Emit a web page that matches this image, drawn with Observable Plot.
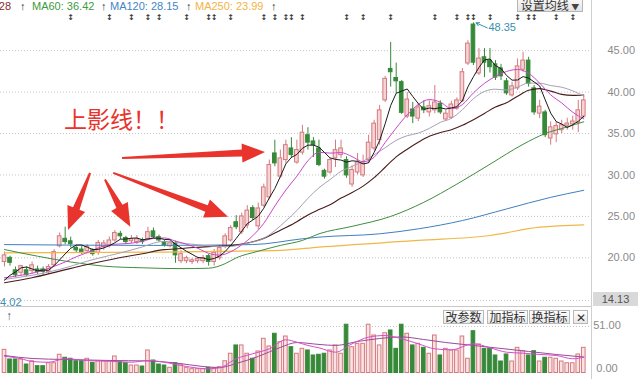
<!DOCTYPE html>
<html><head><meta charset="utf-8">
<script src="https://cdn.jsdelivr.net/npm/d3@7"></script>
<script src="https://cdn.jsdelivr.net/npm/@observablehq/plot@0.6"></script>
<style>
html,body{margin:0;padding:0;background:#fff;}
#wrap{position:relative;width:640px;height:379px;overflow:hidden;background:#fff;font-family:"Liberation Sans",Arial,sans-serif;}
#wrap svg{position:absolute;left:0;}
.btn{position:absolute;top:310px;height:12px;border:1px solid #b8b8b8;background:linear-gradient(#ffffff,#e8e8e8);font-family:"Noto Sans CJK SC",sans-serif;font-size:12px;line-height:12px;color:#333;text-align:center;}
.abs{position:absolute;white-space:nowrap;}
</style></head><body><div id="wrap"></div>
<script>
// ---------- candles ----------
const open = [19.5,20.0,18.5,18.2,18.5,18.4,18.6,18.6,18.3,19.1,21.4,22.3,22.0,21.2,21.0,20.8,20.9,20.6,21.3,21.4,22.1,22.9,22.4,22.0,21.9,22.1,22.25,23.2,22.5,21.9,21.4,21.75,19.6,19.6,19.5,19.6,19.6,20.2,19.5,19.96,21.3,22.1,24.3,23.1,23.9,26.0,23.8,26.3,27.3,32.6,29.8,31.8,33.2,31.5,32.7,34.8,34.05,33.2,30.5,30.3,32.0,32.4,31.8,28.85,30.3,29.95,31.8,33.2,34.2,39.0,42.8,41.7,41.2,37.05,37.9,36.8,38.15,37.55,37.8,38.6,36.7,36.9,38.0,38.9,43.45,48.15,42.25,44.2,43.8,43.35,42.85,41.3,39.6,40.45,42.7,43.8,40.45,37.4,37.55,34.4,34.9,35.4,35.95,36.1,36.3,37.05];
const close = [20.3,19.4,17.9,19.0,17.9,19.1,18.3,18.3,18.9,20.7,22.6,21.9,21.65,20.9,20.7,21.3,20.45,21.8,21.75,22.1,23.0,22.6,21.9,22.25,22.25,21.9,23.1,22.5,22.1,21.5,21.75,20.3,20.45,19.96,19.7,19.85,19.96,19.5,20.6,21.2,22.6,23.6,23.7,25.0,25.7,24.8,25.96,28.5,31.2,31.4,32.0,33.6,32.4,33.0,35.1,33.9,33.6,31.2,29.8,31.8,33.0,33.2,29.95,30.6,31.5,31.4,33.9,36.2,37.8,41.6,42.4,41.3,37.5,39.1,37.05,38.15,37.8,38.3,38.75,37.55,37.4,38.5,39.0,42.4,45.85,43.55,44.05,43.55,43.0,41.75,41.9,39.85,40.7,43.1,43.8,41.0,37.55,38.25,34.8,35.75,35.9,36.0,36.2,36.45,37.8,39.0];
const high = [20.7,20.2,18.9,19.1,18.9,19.5,19.0,18.9,19.2,21.0,23.0,23.7,22.5,21.5,21.4,21.6,21.1,22.1,22.1,22.5,23.3,23.2,22.6,22.7,22.7,22.4,23.7,23.6,22.75,22.1,22.0,22.0,20.9,20.2,19.9,20.1,20.3,20.4,21.0,21.5,22.9,23.9,25.1,25.4,26.3,26.3,26.6,28.9,31.8,34.2,33.0,34.2,34.5,34.2,36.0,35.7,34.5,34.2,30.7,32.0,34.2,34.2,32.2,31.1,32.6,32.4,34.8,36.6,38.4,41.9,46.0,43.5,41.4,39.95,38.75,38.65,38.95,38.95,40.8,38.95,37.8,38.9,39.3,42.85,46.2,48.35,45.25,45.25,45.25,43.8,43.35,41.65,41.2,44.0,44.8,44.2,40.8,39.0,37.8,36.4,36.4,36.6,36.85,37.1,39.0,39.5];
const low = [18.9,19.0,17.6,17.8,17.7,18.0,18.0,17.9,18.0,18.9,21.2,21.6,21.2,20.6,20.4,20.5,20.2,20.3,20.9,21.2,21.9,22.2,21.6,21.7,21.6,21.6,22.1,22.3,21.9,21.3,21.2,19.35,19.3,19.3,19.2,19.3,19.3,19.0,19.0,19.7,21.1,21.9,23.4,22.8,23.5,24.5,23.4,26.1,27.0,31.0,29.6,31.4,32.0,31.3,32.4,33.0,32.1,31.0,29.5,30.1,30.9,32.0,29.6,28.5,30.0,29.7,31.4,32.9,33.6,38.75,40.6,39.8,37.3,36.8,36.2,36.45,37.4,37.0,37.4,37.3,36.45,36.7,37.8,38.75,43.2,43.2,42.0,41.75,42.3,41.4,41.4,39.6,39.4,40.2,42.4,40.6,37.2,36.8,34.5,33.6,33.9,35.0,35.4,35.4,35.1,36.8];
const volume = [25.4,14.8,14.8,14.8,9.3,12.9,7.5,7.5,10.7,10.7,20.0,16.7,15.6,12.9,12.9,15.6,11.2,12.9,12.9,12.9,18.1,11.8,10.7,8.2,8.2,7.1,24.7,13.7,9.3,8.2,5.7,10.7,9.3,5.7,4.2,4.2,4.2,5.7,5.3,6.4,12.9,21.1,30.2,30.2,21.1,15.6,23.6,37.5,29.1,43.0,33.8,40.0,28.3,21.1,26.5,24.7,19.2,20.0,21.1,24.7,30.2,21.1,52.9,28.3,32.0,32.0,52.9,41.1,30.2,43.6,46.6,26.5,52.9,43.0,30.2,32.0,27.6,21.1,41.1,19.2,26.5,24.7,24.7,40.0,15.6,45.8,31.3,26.5,26.5,19.2,12.6,20.3,12.6,27.6,23.9,19.2,23.9,12.6,16.7,16.7,15.6,12.6,10.7,10.7,20.3,27.6];

// ---------- moving-average lines ----------
const ma5 = [17.3,17.9,18.3,18.8,18.9,18.66,18.44,18.52,18.5,19.06,19.76,20.48,21.15,21.55,21.55,21.29,21.0,21.03,21.2,21.48,21.82,22.25,22.27,22.37,22.4,22.18,22.28,22.4,22.37,22.22,22.19,21.63,21.22,20.79,20.43,20.05,19.98,19.79,19.92,20.22,20.77,21.5,22.34,23.22,24.12,24.56,25.03,25.99,27.23,28.37,29.81,31.34,32.12,32.48,33.22,33.6,33.6,33.36,32.72,32.06,31.88,31.8,31.55,31.71,31.65,31.33,31.47,32.72,34.16,36.18,38.38,39.86,40.12,40.38,39.47,38.62,37.92,38.08,38.01,38.11,37.96,38.1,38.24,38.97,40.63,41.86,42.97,43.88,44.0,43.18,42.85,42.01,41.44,41.46,41.87,41.69,41.23,40.74,39.08,37.47,36.45,36.14,35.73,36.06,36.47,37.09];
const ma10Day = [0,3,6,9,11,13,15,17,19,21,23,25,27,29,31,33,35,37,39,41,43,45,47,49,51,53,55,57,59,61,63,65,67,69,71,73,75,77,79,81,83,85,87,89,91,93,95,97,99,101,103,105];
const ma10 = [17.6,17.9,18.3,18.98,19.5,20.13,20.63,21.2,21.58,21.68,21.77,22.0,22.34,22.4,22.02,21.64,21.16,20.55,20.33,20.74,21.57,22.67,24.17,26.25,28.19,29.86,31.71,32.74,32.64,32.7,32.22,31.6,32.14,33.92,35.67,37.27,38.5,39.1,38.79,38.01,38.49,39.91,41.06,41.9,42.49,42.73,42.27,41.09,39.67,38.69,37.57,36.77];
const ma20Day = [0,5,10,15,19,21,23,25,27,29,31,33,35,37,39,41,43,45,47,49,51,53,55,57,59,61,63,65,67,69,71,73,75,77,79,81,83,85,87,89,91,93,95,97,99,101,103,105];
const ma20 = [17.4,17.9,18.6,19.6,20.28,20.59,20.95,21.32,21.77,21.99,21.85,21.71,21.58,21.44,21.36,21.38,21.61,21.91,22.36,23.29,24.46,25.71,27.19,28.45,29.44,30.44,31.04,31.66,32.44,33.28,34.18,34.74,35.05,35.62,36.35,36.84,37.88,39.2,40.08,40.35,40.25,40.61,41.09,41.08,40.79,40.59,40.15,39.52];
const ma30Day = [0,5,10,15,20,25,29,31,33,35,37,39,41,43,45,47,49,51,53,55,57,59,61,63,65,67,69,71,73,75,77,79,81,83,85,87,89,91,93,95,97,99,101,103,105];
const ma30 = [17.0,17.6,18.4,19.2,19.9,20.5,20.99,21.06,21.18,21.27,21.36,21.43,21.48,21.66,21.94,22.35,22.99,23.65,24.36,25.18,25.82,26.4,27.21,27.88,28.66,29.68,30.93,32.18,33.11,33.94,34.66,35.12,35.46,35.99,36.67,37.43,38.2,38.72,39.5,40.23,40.42,40.12,39.73,39.6,39.65];
const ma60Day = [0,6,12,18,25,32,37,40,42,46,50,54,57,63,70,76,82,88,94,98,102,105];
const ma60 = [21.0,20.2,19.5,19.0,18.8,18.7,18.75,19.3,20.0,20.8,21.5,22.1,22.9,23.8,25.0,26.7,28.9,31.3,33.7,35.0,35.8,36.42];
const ma120Day = [0,27,45,54,57,68,75,83,91,99,105];
const ma120 = [21.6,21.5,21.6,22.3,22.5,22.9,23.5,24.5,25.9,27.3,28.15];
const ma250Day = [0,27,50,57,75,88,97,105];
const ma250 = [20.6,20.7,20.9,21.3,22.1,22.7,23.7,23.99];

// volume averages
const vol5Day = [0,3,5,8,11,15,19,23,26,30,33,37,39,42,45,48,51,53,55,57,60,63,66,69,72,75,78,81,85,88,91,94,97,100,103,105];
const vol5 = [18.4,15.6,12.6,11.8,15.6,13.7,12.9,11.8,13.7,10.7,7.1,4.6,5.7,15.6,21.1,26.5,36.4,33.8,30.2,27.6,22.8,32.0,39.3,41.1,37.5,32.0,26.5,25.4,32.0,27.6,22.8,21.7,20.3,19.2,15.6,17.3];
const vol10Day = [0,5,11,19,26,31,36,39,42,46,50,53,57,60,64,68,72,76,80,85,90,95,100,105];
const vol10 = [19.2,15.9,14.8,13.7,13.2,11.0,7.1,6.0,10.4,18.1,28.0,33.4,31.3,30.2,34.5,37.8,39.5,36.7,33.4,30.2,26.9,23.6,20.3,17.5];

// ticks, events, labels
const priceTicks = [20, 25, 30, 35, 40, 45];
const volTicks = [{v: 51, shift: 0}, {v: 0, shift: -4}];
const markerDays = [12,19,23,26,28,33,37,38,41,47,49,51,52,54,62,65,70,78,82,84,85,88,93,95,96,100,103];
const legendItems = [
  {name: "MA30", value: "39.28"},
  {name: "MA60", value: "36.42"},
  {name: "MA120", value: "28.15"},
  {name: "MA250", value: "23.99"}
];
const bottomValue = "14.13";
const lowValue = "14.02";
const noteText = "上影线！！";
// annotation arrows: [day, price] of tail and tip
const arrowTail = [[15.6, 30.2], [18.3, 29.4], [19.8, 30.2], [21.4, 32.0]];
const arrowTip  = [[11.6, 23.3], [22.9, 23.7], [40.6, 24.9], [47.3, 32.7]];

// ---------- build ----------
const rows = open.map((o, i) => ({i, o, c: close[i], h: high[i], l: low[i], v: volume[i], up: close[i] >= o}));
const upStroke = "#d47a7e", upFill = "#f6d3d5", downCol = "#37893a";
const xDomain = [-0.725, 106.4];
const hw = 0.33;
const fmt = d3.format(".2f");
const maxRow = rows.reduce((a, b) => b.h > a.h ? b : a);

const price = Plot.plot({
  width: 640, height: 308, marginLeft: 0, marginRight: 49, marginTop: 20, marginBottom: 2,
  style: {fontFamily: "Liberation Sans, Arial, sans-serif", fontSize: "11px", background: "transparent"},
  x: {domain: xDomain, axis: null, label: null},
  y: {domain: [14.13, 48.64], axis: null, label: null},
  marks: [
    Plot.ruleY(priceTicks, {stroke: "#c4c4c4", strokeDasharray: "1,2"}),
    Plot.ruleY([14.85], {stroke: "#c4c4c4", strokeDasharray: "1,2"}),
    Plot.text(priceTicks, {y: d => d, text: d => fmt(d), frameAnchor: "right", dx: 16, textAnchor: "start", fill: "#8a8a8a", fontSize: 11}),
    Plot.ruleX(rows, {filter: d => d.up, x: "i", y1: "l", y2: "h", stroke: upStroke}),
    Plot.ruleX(rows, {filter: d => !d.up, x: "i", y1: "l", y2: "h", stroke: downCol}),
    Plot.rect(rows, {filter: d => d.up, x1: d => d.i - hw, x2: d => d.i + hw, y1: "o", y2: "c", fill: upFill, stroke: upStroke}),
    Plot.rect(rows, {filter: d => !d.up, x1: d => d.i - hw, x2: d => d.i + hw, y1: "o", y2: "c", fill: downCol, stroke: downCol}),
    Plot.line(ma250, {x: ma250Day, y: d => d, curve: "monotone-x", stroke: "#f0b848", strokeWidth: 1.2}),
    Plot.line(ma120, {x: ma120Day, y: d => d, curve: "monotone-x", stroke: "#3f80bf", strokeWidth: 1}),
    Plot.line(ma60, {x: ma60Day, y: d => d, curve: "monotone-x", stroke: "#3e8e3e", strokeWidth: 1}),
    Plot.line(ma30, {x: ma30Day, y: d => d, curve: "monotone-x", stroke: "#4a1c1c", strokeWidth: 1.1}),
    Plot.line(ma20, {x: ma20Day, y: d => d, curve: "monotone-x", stroke: "#a79fb6", strokeWidth: 1}),
    Plot.line(ma10, {x: ma10Day, y: d => d, curve: "monotone-x", stroke: "#cc46c8", strokeWidth: 1}),
    Plot.line(ma5, {x: (d, i) => i, y: d => d, stroke: "#1a1a1a", strokeWidth: 1}),
    Plot.text(markerDays, {x: d => d, frameAnchor: "top", dy: -6, text: () => "↕", fill: "#333", fontSize: 8, fontWeight: "bold", fontFamily: "DejaVu Sans"}),
    Plot.arrow([maxRow], {x1: d => d.i + 2.5, y1: d => d.h - 0.6, x2: d => d.i + 0.5, y2: d => d.h, stroke: "#3a8fae", strokeWidth: 1, headLength: 5}),
    Plot.text([maxRow], {x: "i", y: "h", text: d => fmt(d.h), dx: 15, dy: 5, textAnchor: "start", fill: "#3a8fae", fontSize: 11})
  ]
});
price.style.top = "0px";

// red annotation arrows
const xs = price.scale("x"), ys = price.scale("y");
function arrowPath(x0, y0, x1, y1, w0, w1, headW, headL) {
  const dx = x1 - x0, dy = y1 - y0, len = Math.hypot(dx, dy), ux = dx / len, uy = dy / len, nx = -uy, ny = ux;
  const bx = x1 - ux * headL, by = y1 - uy * headL;
  const pts = [[x0 + nx * w0 / 2, y0 + ny * w0 / 2], [bx + nx * w1 / 2, by + ny * w1 / 2], [bx + nx * headW / 2, by + ny * headW / 2], [x1, y1],
    [bx - nx * headW / 2, by - ny * headW / 2], [bx - nx * w1 / 2, by - ny * w1 / 2], [x0 - nx * w0 / 2, y0 - ny * w0 / 2]];
  return "M" + pts.map(p => p[0].toFixed(1) + "," + p[1].toFixed(1)).join("L") + "Z";
}
const g = d3.select(price).append("g");
arrowTail.forEach((t, k) => {
  const tip = arrowTip[k];
  g.append("path").attr("d", arrowPath(xs.apply(t[0]), ys.apply(t[1]), xs.apply(tip[0]), ys.apply(tip[1]), 2, 7, 19, 23)).attr("fill", "#e8342d");
});

const vol = Plot.plot({
  width: 640, height: 71, marginLeft: 0, marginRight: 49, marginTop: 13.4, marginBottom: 6.5,
  style: {fontFamily: "Liberation Sans, Arial, sans-serif", fontSize: "11px", background: "transparent", overflow: "visible"},
  x: {domain: xDomain, axis: null, label: null},
  y: {domain: [0, 56], axis: null, label: null},
  marks: [
    Plot.ruleY([51], {stroke: "#c4c4c4", strokeDasharray: "1,2"}),
    Plot.rect(rows, {filter: d => d.up, x1: d => d.i - hw, x2: d => d.i + hw, y1: 0, y2: "v", fill: "#fbe2e3", stroke: upStroke}),
    Plot.rect(rows, {filter: d => !d.up, x1: d => d.i - hw, x2: d => d.i + hw, y1: 0, y2: "v", fill: downCol, stroke: downCol}),
    Plot.line(vol10, {x: vol10Day, y: d => d, curve: "monotone-x", stroke: "#9a4a9a", strokeWidth: 1}),
    Plot.line(vol5, {x: vol5Day, y: d => d, curve: "monotone-x", stroke: "#d64ccc", strokeWidth: 1})
  ]
});
vol.style.top = "308px";
// tick labels of the volume panel, placed with the panel's own y scale
const vy = vol.scale("y");
d3.select(vol).append("g").selectAll("text").data(volTicks).join("text")
  .attr("x", 607).attr("y", d => vy.apply(d.v) + d.shift).attr("dy", "0.32em")
  .attr("fill", "#8a8a8a").attr("font-size", 11).text(d => fmt(d.v));

const wrap = document.getElementById("wrap");
wrap.appendChild(price);
wrap.appendChild(vol);

function add(html, css) { const d = document.createElement("div"); d.className = "abs"; d.style.cssText += css; d.innerHTML = html; wrap.appendChild(d); return d; }

// frame lines
add("", "left:591px;top:0;width:1px;height:379px;background:#cfcfcf;");
add("", "left:0;top:306px;width:591px;height:1px;background:#c8c8c8;");

// legend
const legendColors = ["#8b2a2a", "#3e9a3e", "#3f86c8", "#f2b446"];
const legendX = [null, 32, 110, 195];
const arrowX = [20, 101, 186, 271];
legendItems.forEach((it, k) => {
  const txt = it.name + ": " + it.value;
  if (k === 0) add(txt, `top:0;right:629px;font-size:11px;line-height:12px;color:${legendColors[k]};`);
  else add(txt, `top:0;left:${legendX[k]}px;font-size:11px;line-height:12px;color:${legendColors[k]};`);
  add("↑", `top:0;left:${arrowX[k]}px;font-size:11px;line-height:12px;color:#333;`);
});

// 设置均线 button
add("设置均线 <span style='font-size:8px;color:#444'>▼</span>", "left:517px;top:-3px;width:64px;height:13px;border:1px solid #b5b5b5;background:linear-gradient(#fafafa,#e4e4e4);font-family:'Noto Sans CJK SC';font-size:12px;line-height:13px;color:#333;text-align:center;");

// red note
add(noteText, "left:64px;top:105px;font-family:'Noto Sans CJK SC';font-size:23px;line-height:26px;color:#e8342d;");

// bottom value box and low label
add(bottomValue, "left:593px;top:292px;width:45px;height:14px;background:#d9d9d9;color:#555;font-size:11px;line-height:14px;text-align:center;");
add(lowValue, "left:-6px;top:296px;font-size:11px;line-height:12px;color:#3f8db3;");
add("↑", "left:6px;top:310px;font-size:12px;line-height:12px;color:#555;");

// indicator buttons
const btns = [["改参数", 443, 39], ["加指标", 487, 39], ["换指标", 529, 39], ["✕", 573, 13]];
btns.forEach(b => { const d = document.createElement("div"); d.className = "btn"; d.style.left = b[1] + "px"; d.style.width = b[2] + "px"; d.textContent = b[0]; wrap.appendChild(d); });
</script></body></html>
